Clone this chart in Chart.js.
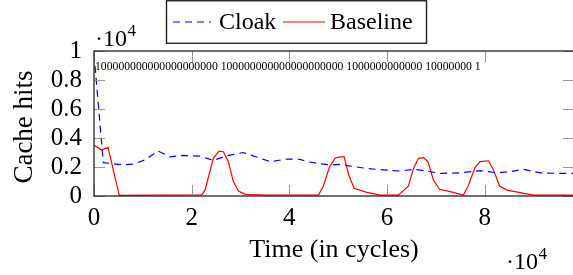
<!DOCTYPE html>
<html>
<head>
<meta charset="utf-8">
<script src="https://cdn.jsdelivr.net/npm/chart.js@4/dist/chart.umd.min.js"></script>
<style>
  html, body { margin: 0; padding: 0; background: #fff; overflow: hidden; }
  canvas { display: block; }
</style>
</head>
<body>
<canvas id="c" width="580" height="275"></canvas>
<script>
// ---- data (x in cycles, y in cache hits) ----
const cloakX = [0, 1900, 3300, 5900, 8000, 10500, 13100, 15600, 18200, 21700, 24400, 27300, 30500, 33400, 36100, 39500, 42200, 43600, 45700, 48400, 50400, 51800, 55900, 59200, 62700, 65400, 68200, 70900, 75000, 79100, 82600, 85200, 87900, 91400, 94900, 98300];
const cloakY = [9800, 2300, 2250, 2150, 2200, 2500, 3100, 2700, 2800, 2750, 2450, 2780, 3000, 2670, 2370, 2550, 2530, 2370, 2250, 2140, 2180, 2100, 1900, 1800, 1720, 1840, 1720, 1560, 1600, 1750, 1600, 1680, 1840, 1600, 1560, 1560];
const baseX = [0, 1580, 2870, 5180, 13500, 22070, 22740, 24440, 25610, 26490, 27520, 28540, 29570, 30940, 35390, 45960, 46980, 48210, 49380, 50260, 51230, 52110, 53270, 55880, 58600, 62350, 64400, 65430, 66450, 67480, 68380, 69520, 70750, 72940, 75670, 76700, 78070, 79090, 80790, 81820, 83050, 84560, 87290, 90010, 98300];
const baseY = [3500, 3170, 3360, 40, 60, 80, 400, 2600, 3100, 3050, 2370, 990, 340, 110, 60, 60, 690, 2000, 2600, 2700, 2700, 1500, 530, 250, 60, 60, 690, 1900, 2600, 2640, 2370, 1100, 460, 300, 60, 760, 2000, 2370, 2430, 1800, 690, 410, 230, 60, 60];
const seriesNames = ["Cloak", "Baseline"];
const xMax = 98300;
const yMax = 10000;
const xTicks = [0, 20000, 40000, 60000, 80000];
const yTicks = [0, 2000, 4000, 6000, 8000, 10000];
const xTickLabels = ["0", "2", "4", "6", "8"];
const yTickLabels = ["0", "0.2", "0.4", "0.6", "0.8", "1"];
const topLabels = ["100000000000000000000", "100000000000000000000", "1000000000000", "10000000", "1"];
const xTitle = "Time (in cycles)";
const yTitle = "Cache hits";

const SERIF = "'Liberation Serif', 'Times New Roman', serif";
const toPts = (xs, ys) => xs.map((x, i) => ({ x: x, y: ys[i] }));

const decor = {
  id: 'decor',
  afterDatasetsDraw(chart) {
    const ctx = chart.ctx;
    const a = chart.chartArea;
    const xs = chart.scales.x, ys = chart.scales.y;
    const TL = 11;
    ctx.save();
    // inward ticks
    ctx.strokeStyle = '#9a9a9a';
    ctx.lineWidth = 1;
    xs.ticks.forEach(t => {
      const px = Math.round(xs.getPixelForValue(t.value)) + 0.5;
      ctx.beginPath();
      ctx.moveTo(px, a.bottom); ctx.lineTo(px, a.bottom - TL);
      ctx.moveTo(px, a.top); ctx.lineTo(px, a.top + TL);
      ctx.stroke();
    });
    ys.ticks.forEach(t => {
      const py = Math.round(ys.getPixelForValue(t.value)) + 0.5;
      ctx.beginPath();
      ctx.moveTo(a.left, py); ctx.lineTo(a.left + TL, py);
      ctx.moveTo(a.right, py); ctx.lineTo(a.right - TL, py);
      ctx.stroke();
    });
    // frame
    ctx.strokeStyle = '#222';
    ctx.lineWidth = 1.3;
    ctx.strokeRect(a.left, a.top, a.right - a.left, a.bottom - a.top);

    // top labels string
    ctx.fillStyle = '#000';
    ctx.font = "11.7px " + SERIF;
    ctx.textAlign = 'left';
    ctx.textBaseline = 'alphabetic';
    ctx.fillText(topLabels.join(' '), a.left + 1, a.top + 19);

    // scale multipliers
    const drawExp = (x, y) => {
      ctx.font = "24px " + SERIF;
      ctx.textAlign = 'left';
      const s = "\u00B710";
      ctx.fillText(s, x, y);
      const w = ctx.measureText(s).width;
      ctx.font = "17px " + SERIF;
      ctx.fillText("4", x + w + 0.5, y - 10);
    };
    drawExp(95, 46);
    drawExp(506, 269);

    // axis titles
    ctx.font = "26px " + SERIF;
    ctx.textAlign = 'center';
    ctx.textBaseline = 'alphabetic';
    ctx.fillText(xTitle, 334, 257);
    ctx.save();
    ctx.font = "27px " + SERIF;
    ctx.translate(32, 127);
    ctx.rotate(-Math.PI / 2);
    ctx.fillText(yTitle, 0, 0);
    ctx.restore();

    // legend
    ctx.fillStyle = '#fff';
    ctx.fillRect(166.5, 0.75, 260, 42.5);
    ctx.strokeStyle = '#222';
    ctx.lineWidth = 1.4;
    ctx.strokeRect(166.5, 0.75, 260, 42.5);
    const ds = chart.data.datasets;
    const ly = 22;
    ctx.strokeStyle = ds[0].borderColor;
    ctx.lineWidth = ds[0].borderWidth;
    ctx.setLineDash(ds[0].borderDash);
    ctx.beginPath(); ctx.moveTo(173, ly); ctx.lineTo(211, ly); ctx.stroke();
    ctx.setLineDash([]);
    ctx.strokeStyle = ds[1].borderColor;
    ctx.lineWidth = ds[1].borderWidth;
    ctx.beginPath(); ctx.moveTo(283, ly); ctx.lineTo(325, ly); ctx.stroke();
    ctx.fillStyle = '#000';
    ctx.font = "24px " + SERIF;
    ctx.textAlign = 'left';
    ctx.fillText(ds[0].label, 219, 29);
    ctx.fillText(ds[1].label, 330, 29);
    ctx.restore();
  }
};

new Chart(document.getElementById('c'), {
  type: 'line',
  data: {
    datasets: [
      { label: seriesNames[0], data: toPts(cloakX, cloakY), borderColor: '#0000ff', borderWidth: 1.2, borderDash: [7, 5], pointRadius: 0, tension: 0, fill: false },
      { label: seriesNames[1], data: toPts(baseX, baseY), borderColor: '#ff0000', borderWidth: 1.2, pointRadius: 0, tension: 0, fill: false }
    ]
  },
  options: {
    responsive: false,
    animation: false,
    layout: { padding: { top: 51, right: 6, left: 0, bottom: 0 } },
    plugins: { legend: { display: false }, tooltip: { enabled: false } },
    scales: {
      x: {
        type: 'linear', min: 0, max: xMax,
        grid: { display: false, drawTicks: false },
        border: { display: false },
        afterFit: s => { s.height = 79; },
        afterBuildTicks: s => { s.ticks = xTicks.map(v => ({ value: v })); },
        ticks: {
          padding: 7, color: '#000',
          font: { family: SERIF, size: 25 },
          maxRotation: 0, autoSkip: false,
          callback: (v) => xTickLabels[xTicks.indexOf(v)]
        }
      },
      y: {
        type: 'linear', min: 0, max: yMax,
        grid: { display: false, drawTicks: false },
        border: { display: false },
        afterFit: s => { s.width = 94; },
        afterBuildTicks: s => { s.ticks = yTicks.map(v => ({ value: v })); },
        ticks: {
          padding: 12, color: '#000', autoSkip: false,
          font: { family: SERIF, size: 25 },
          callback: (v) => yTickLabels[yTicks.indexOf(v)]
        }
      }
    }
  },
  plugins: [decor]
});
</script>
</body>
</html>
